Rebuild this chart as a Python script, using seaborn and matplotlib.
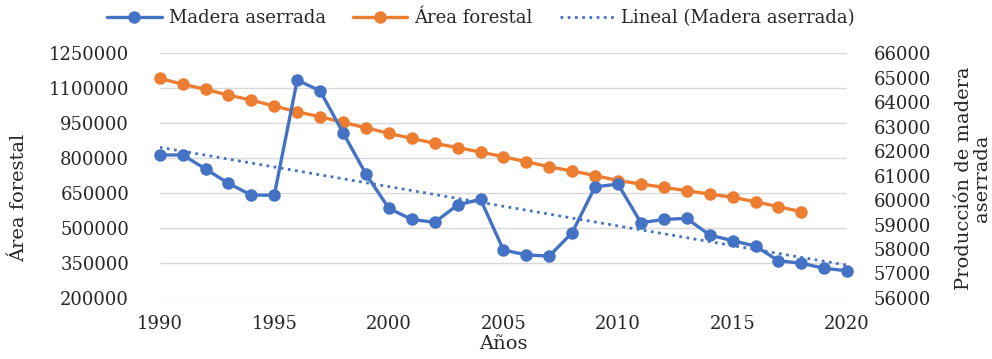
import seaborn as sns
import numpy as np
import matplotlib.pyplot as plt
import matplotlib.ticker as mticker
import pandas as pd

# datos
years = list(range(1990, 2021))
madera = [61840, 61840, 61270, 60680, 60200, 60200, 64900, 64460, 62750, 61060,
          59660, 59210, 59090, 59800, 60030, 57960, 57760, 57710, 58670, 60540,
          60650, 59070, 59210, 59250, 58570, 58340, 58120, 57520, 57420, 57210, 57110]
area_years = list(range(1990, 2019))
area = [1141600, 1117100, 1094400, 1070000, 1048600, 1022900, 998400, 977000, 953000,
        929900, 905900, 884400, 863000, 845000, 825700, 805600, 784100, 762700,
        744300, 725000, 703600, 688600, 674400, 659900, 645700, 631600, 612700,
        591300, 569900]
left_ticks = [200000, 350000, 500000, 650000, 800000, 950000, 1100000, 1250000]
right_ticks = list(range(56000, 66001, 1000))
x_ticks = [1990, 1995, 2000, 2005, 2010, 2015, 2020]

df_m = pd.DataFrame({'year': years, 'madera': madera})
df_a = pd.DataFrame({'year': area_years, 'area': area})

coef = np.polyfit(years, madera, 1)
df_m['trend'] = np.polyval(coef, df_m['year'])

sns.set_theme(style='white')
plt.rcParams['font.family'] = ['DejaVu Serif']
fs = 13
blue = '#4472C4'
orange = '#ED7D31'
txt = '#262626'

fig, ax = plt.subplots(figsize=(9.92, 3.59), dpi=100)
fig.subplots_adjust(left=0.161, right=0.854, bottom=0.170, top=0.852)
ax2 = ax.twinx()

sns.lineplot(data=df_a, x='year', y='area', ax=ax, color=orange, lw=2.4,
             marker='o', markersize=9, markeredgewidth=0, clip_on=False,
             label='Área forestal', legend=False)
sns.lineplot(data=df_m, x='year', y='madera', ax=ax2, color=blue, lw=2.4,
             marker='o', markersize=9, markeredgewidth=0, clip_on=False,
             label='Madera aserrada', legend=False)
sns.lineplot(data=df_m, x='year', y='trend', ax=ax2, color=blue, lw=2,
             linestyle=(0, (1, 1.6)), label='Lineal (Madera aserrada)', legend=False)

ax.set_xlim(1990, 2020)
ax.set_ylim(200000, 1250000)
ax2.set_ylim(56000, 66000)
ax.set_xticks(x_ticks)
ax.set_yticks(left_ticks)
ax2.set_yticks(right_ticks)
ax.yaxis.set_major_formatter(mticker.StrMethodFormatter('{x:.0f}'))
ax2.yaxis.set_major_formatter(mticker.StrMethodFormatter('{x:.0f}'))
ax.xaxis.set_major_formatter(mticker.StrMethodFormatter('{x:.0f}'))
ax.grid(axis='y', color='#D9D9D9', lw=1)
ax.grid(axis='x', visible=False)
ax2.grid(False)
for a in (ax, ax2):
    for s in a.spines.values():
        s.set_visible(False)
    a.tick_params(length=0, labelsize=fs, colors=txt)
ax.tick_params(axis='y', pad=22)
ax.tick_params(axis='x', pad=12)
ax2.tick_params(axis='y', pad=19)

ax.set_xlabel('Años', fontsize=fs + 1, color=txt, labelpad=2)
ax.set_ylabel('Área forestal', fontsize=fs + 1, color=txt, va='center', ha='center')
ax.yaxis.set_label_coords(-0.204, 0.41)
ax2.set_ylabel('Producción de madera\naserrada', fontsize=fs + 1, color=txt,
               rotation=90, linespacing=0.95, va='center', ha='center',
               multialignment='center')
ax2.yaxis.set_label_coords(1.183, 0.49)

h1, l1 = ax2.get_legend_handles_labels()
h2, l2 = ax.get_legend_handles_labels()
handles = [h1[0], h2[0], h1[1]]
labels = [l1[0], l2[0], l1[1]]
fig.legend(handles, labels, loc='upper center', bbox_to_anchor=(0.485, 1.02),
           ncol=3, frameon=False, fontsize=fs, handlelength=3.0,
           columnspacing=1.5, handletextpad=0.4, labelcolor=txt)

fig.savefig('out.png', dpi=100)
